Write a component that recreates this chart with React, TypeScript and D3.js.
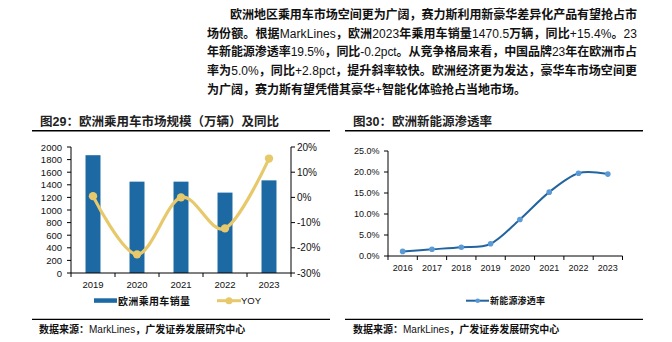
import React from 'react';
import * as d3 from 'd3';

const paragraphLines = [
  '欧洲地区乘用车市场空间更为广阔，赛力斯利用新豪华差异化产品有望抢占市',
  '场份额。根据MarkLines，欧洲2023年乘用车销量1470.5万辆，同比+15.4%。23',
  '年新能源渗透率19.5%，同比-0.2pct。从竞争格局来看，中国品牌23年在欧洲市占',
  '率为5.0%，同比+2.8pct，提升斜率较快。欧洲经济更为发达，豪华车市场空间更',
  '为广阔，赛力斯有望凭借其豪华+智能化体验抢占当地市场。',
];

const title1 = '图29：欧洲乘用车市场规模（万辆）及同比';
const title2 = '图30：欧洲新能源渗透率';
const sourceText = '数据来源：MarkLines，广发证券发展研究中心';

const barYears = ['2019', '2020', '2021', '2022', '2023'];
const salesValues = [1870, 1450, 1450, 1276, 1470.5];
const yoyValues = [0.5, -22.6, 0.0, -12.3, 15.4];
const salesTicks = [0, 200, 400, 600, 800, 1000, 1200, 1400, 1600, 1800, 2000];
const yoyTicks = [-30, -20, -10, 0, 10, 20];
const salesLegend = '欧洲乘用车销量';
const yoyLegend = 'YOY';

const nevYears = ['2016', '2017', '2018', '2019', '2020', '2021', '2022', '2023'];
const nevRates = [1.1, 1.6, 2.1, 2.9, 8.7, 15.2, 19.7, 19.5];
const nevTicks = [0, 5, 10, 15, 20, 25];
const nevLegend = '新能源渗透率';

const BAR_COLOR = '#1C69A4';
const YOY_COLOR = '#E7C96B';
const NEV_LINE = '#22649F';
const NEV_DOT = '#5B9BD5';
const NUM_FONT = '"Liberation Sans", Arial, sans-serif';
const CJK_FONT = '"Liberation Sans", "Noto Sans CJK SC", sans-serif';
const CJK_ONLY = '"Noto Sans CJK SC", sans-serif';

function splitRuns(s: string) {
  const runs: { t: string; latin: boolean }[] = [];
  const re = /[\x20-\x7e]+/g;
  let last = 0;
  let m: RegExpExecArray | null;
  while ((m = re.exec(s))) {
    if (m.index > last) runs.push({ t: s.slice(last, m.index), latin: false });
    runs.push({ t: m[0], latin: true });
    last = m.index + m[0].length;
  }
  if (last < s.length) runs.push({ t: s.slice(last), latin: false });
  return runs;
}

function MixedRuns({ s, cjkWeight }: { s: string; cjkWeight: string }) {
  return (
    <>
      {splitRuns(s).map((r, j) => (
        <tspan key={j} fontWeight={r.latin ? 'normal' : cjkWeight} fontFamily={r.latin ? NUM_FONT : CJK_ONLY}>
          {r.t}
        </tspan>
      ))}
    </>
  );
}

export default function App() {
  const x1 = d3.scaleBand<string>().domain(barYears).range([71, 291]).paddingInner(0.66).paddingOuter(0.33);
  const step1 = (291 - 71) / barYears.length;
  const yL = d3.scaleLinear().domain([0, 2000]).range([273, 147]);
  const yR = d3.scaleLinear().domain([-30, 20]).range([273, 147]);
  const yoyLine = d3
    .line<number>()
    .x((_, i) => (x1(barYears[i]) as number) + x1.bandwidth() / 2)
    .y((d) => yR(d))
    .curve(d3.curveCardinal.tension(0));

  const x2 = d3.scalePoint<string>().domain(nevYears).range([388, 622.5]).padding(0.5);
  const step2 = x2.step();
  const y2 = d3.scaleLinear().domain([0, 25]).range([256, 151]);
  const nevLine = d3
    .line<number>()
    .x((_, i) => x2(nevYears[i]) as number)
    .y((d) => y2(d))
    .curve(d3.curveCardinal.tension(0));

  const paraStarts = [230, 207, 207, 207, 207];
  const paraBaselines = [19, 37.5, 56, 75, 93.5];

  return (
    <svg width={672} height={342} style={{ position: 'absolute', left: 0, top: 0, background: '#fff' }}>
      <rect x={0} y={0} width={672} height={342} fill="#fff" />
      {paragraphLines.map((t, i) => (
        <text
          key={i}
          x={paraStarts[i]}
          y={paraBaselines[i]}
          fontSize={12}
          fontFamily={CJK_FONT}
          fill="#111"
          {...(i < 4 ? { textLength: 637 - paraStarts[i], lengthAdjust: 'spacing' } : {})}
        >
          <MixedRuns s={t} cjkWeight="bold" />
        </text>
      ))}

      <text x={40} y={126} fontSize={12.5} fontWeight="bold" fontFamily={CJK_FONT} fill="#222">
        {title1}
      </text>
      <line x1={32} x2={330} y1={130.7} y2={130.7} stroke="#000" strokeWidth={1.4} />
      <text x={353} y={126} fontSize={12.5} fontWeight="bold" fontFamily={CJK_FONT} fill="#222">
        {title2}
      </text>
      <line x1={345} x2={643} y1={130.7} y2={130.7} stroke="#000" strokeWidth={1.4} />

      {salesValues.map((v, i) => (
        <rect
          key={i}
          x={x1(barYears[i])}
          y={yL(v)}
          width={x1.bandwidth()}
          height={yL(0) - yL(v)}
          fill={BAR_COLOR}
        />
      ))}
      <line x1={71} x2={71} y1={147} y2={273} stroke="#000" strokeWidth={1} />
      {salesTicks.map((t) => (
        <g key={t}>
          <line x1={67} x2={71} y1={yL(t)} y2={yL(t)} stroke="#000" />
          <text x={62} y={yL(t) + 3.5} fontSize={9.5} textAnchor="end" fontFamily={NUM_FONT} fill="#111">
            {t}
          </text>
        </g>
      ))}
      <line x1={291} x2={291} y1={147} y2={273} stroke="#000" strokeWidth={1} />
      {yoyTicks.map((t) => (
        <g key={t}>
          <line x1={291} x2={295} y1={yR(t)} y2={yR(t)} stroke="#000" />
          <text x={297} y={yR(t) + 3.5} fontSize={10} textAnchor="start" fontFamily={NUM_FONT} fill="#111">
            {t + '%'}
          </text>
        </g>
      ))}
      <line x1={71} x2={291} y1={273} y2={273} stroke="#000" strokeWidth={1} />
      {d3.range(barYears.length + 1).map((i) => (
        <line key={i} x1={71 + i * step1} x2={71 + i * step1} y1={273} y2={277} stroke="#000" />
      ))}
      {barYears.map((yr) => (
        <text
          key={yr}
          x={(x1(yr) as number) + x1.bandwidth() / 2}
          y={288}
          fontSize={9.5}
          textAnchor="middle"
          fontFamily={NUM_FONT}
          fill="#111"
        >
          {yr}
        </text>
      ))}
      <path d={yoyLine(yoyValues) || ''} fill="none" stroke={YOY_COLOR} strokeWidth={3.2} />
      {yoyValues.map((v, i) => (
        <circle
          key={i}
          cx={(x1(barYears[i]) as number) + x1.bandwidth() / 2}
          cy={yR(v)}
          r={4.2}
          fill={YOY_COLOR}
        />
      ))}
      <rect x={94} y={298.3} width={23} height={4.5} fill={BAR_COLOR} />
      <text x={118} y={304.5} fontSize={10} fontWeight="bold" fontFamily={CJK_FONT} fill="#111" textLength={72} lengthAdjust="spacing">
        {salesLegend}
      </text>
      <line x1={217} x2={241} y1={300.7} y2={300.7} stroke={YOY_COLOR} strokeWidth={3} />
      <circle cx={229} cy={300.7} r={3.5} fill={YOY_COLOR} />
      <text x={241} y={304.3} fontSize={9.5} fontFamily={NUM_FONT} fill="#111">
        {yoyLegend}
      </text>

      <line x1={388} x2={388} y1={151} y2={256} stroke="#000" />
      {nevTicks.map((t) => (
        <g key={t}>
          <line x1={384} x2={388} y1={y2(t)} y2={y2(t)} stroke="#000" />
          <text x={379.5} y={y2(t) + 3.3} fontSize={9} textAnchor="end" fontFamily={NUM_FONT} fill="#111">
            {t.toFixed(1) + '%'}
          </text>
        </g>
      ))}
      <line x1={388} x2={622.5} y1={256} y2={256} stroke="#000" />
      {d3.range(nevYears.length + 1).map((i) => (
        <line key={i} x1={388 + i * step2} x2={388 + i * step2} y1={256} y2={260} stroke="#000" />
      ))}
      {nevYears.map((yr) => (
        <text key={yr} x={x2(yr)} y={271.3} fontSize={9} textAnchor="middle" fontFamily={NUM_FONT} fill="#111">
          {yr}
        </text>
      ))}
      <path d={nevLine(nevRates) || ''} fill="none" stroke={NEV_LINE} strokeWidth={2} />
      {nevRates.map((v, i) => (
        <circle key={i} cx={x2(nevYears[i])} cy={y2(v)} r={2.8} fill={NEV_DOT} />
      ))}
      <line x1={466} x2={489} y1={300.7} y2={300.7} stroke={NEV_LINE} strokeWidth={2} />
      <circle cx={477.7} cy={300.7} r={2.3} fill={NEV_DOT} />
      <text x={490} y={304} fontSize={9} fontWeight="bold" fontFamily={CJK_FONT} fill="#111" textLength={55} lengthAdjust="spacing">
        {nevLegend}
      </text>

      <line x1={32} x2={330} y1={319.3} y2={319.3} stroke="#000" strokeWidth={1.2} />
      <line x1={345} x2={643} y1={319.3} y2={319.3} stroke="#000" strokeWidth={1.2} />
      <text x={39} y={333} fontSize={10} fontFamily={CJK_FONT} fill="#111">
        <MixedRuns s={sourceText} cjkWeight="bold" />
      </text>
      <text x={353} y={333} fontSize={10} fontFamily={CJK_FONT} fill="#111">
        <MixedRuns s={sourceText} cjkWeight="bold" />
      </text>
    </svg>
  );
}
